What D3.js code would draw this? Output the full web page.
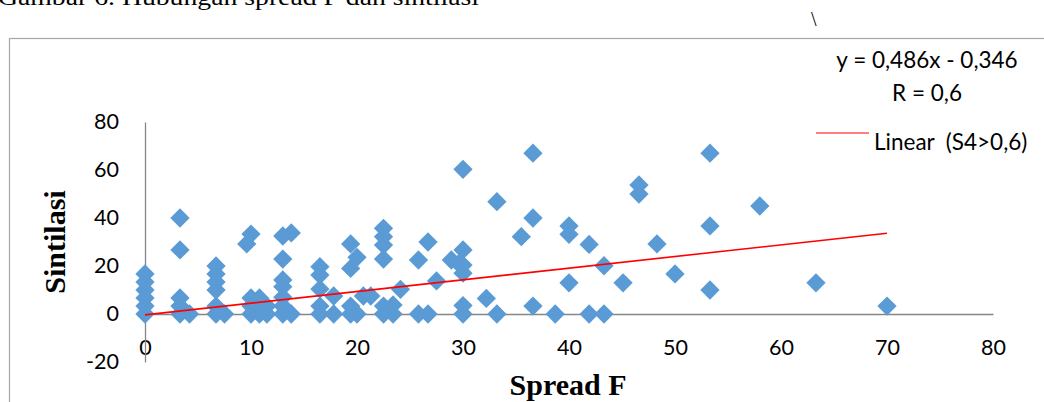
<!DOCTYPE html>
<html>
<head>
<meta charset="utf-8">
<script src="https://cdn.jsdelivr.net/npm/d3@7"></script>
<style>
  body { margin: 0; background: #fff; }
  svg { display: block; }
</style>
</head>
<body>
<div id="chart"></div>
<script>
// spread F (x) vs sintilasi (y)
const spreadF = [
  0, 0, 0, 0, 0, 0,
  3.3, 3.3, 3.3, 3.3, 3.3, 4.2,
  6.7, 6.7, 6.7, 6.7, 6.7, 6.7, 7.5,
  10, 10, 10, 9.6, 10, 10.8, 10.8, 11.5, 11.5,
  13, 13, 13, 13, 13, 13, 13, 13.8, 13.8,
  16.5, 16.5, 16.5, 16.5, 16.5, 17.8, 17.8,
  19.4, 19.4, 19.4, 19.4, 20, 20, 20.6, 21.3,
  22.5, 22.5, 22.5, 22.5, 22.5, 22.5, 23.4, 23.4, 24.1,
  25.8, 25.8, 26.7, 26.7, 27.5, 28.9, 29.6,
  30, 30, 30, 30, 30, 30,
  32.2, 33.2, 33.2, 35.5, 36.6, 36.6, 36.6, 38.7,
  40, 40, 40, 41.9, 41.9, 43.3, 43.3, 45.1,
  46.6, 46.6, 48.3, 50, 53.3, 53.3, 53.3, 58, 63.3, 70
];
const sintilasi = [
  0, 3.3, 6.7, 10, 13.3, 16.7,
  0, 3.3, 6.7, 26.7, 40, 0,
  0, 3.3, 10, 13.3, 16.7, 20, 0,
  0, 3.3, 6.7, 29.2, 33.3, 0, 6.7, 0, 3.3,
  0, 3.3, 7, 11.4, 14.2, 22.9, 32.5, 0, 33.8,
  0, 3.3, 10.4, 16.2, 19.7, 0, 7.5,
  0, 3.3, 19, 29.2, 0, 23.6, 7.5, 7.5,
  0, 3.3, 22.9, 28.7, 32.2, 35.7, 0, 3.8, 10.3,
  0, 22.5, 0, 30, 13.8, 22.5, 21,
  0, 3.5, 17, 20.4, 26.7, 60.3,
  6.5, 0, 46.8, 32.2, 3.3, 40, 67, 0,
  13, 33.2, 36.7, 0, 29, 0, 20.1, 13,
  50, 53.75, 29.2, 16.7, 10, 36.7, 67, 45, 13, 3.3
];
const xTicks = [0, 10, 20, 30, 40, 50, 60, 70, 80];
const yTicks = [-20, 0, 20, 40, 60, 80];
const slope = 0.486, intercept = -0.346;
const eqLabel = "y = 0,486x - 0,346";
const rLabel = "R = 0,6";
const legendLabel = "Linear  (S4>0,6)";

const width = 1044, height = 402;
const x = d3.scaleLinear().domain([0, 80]).range([145, 993]);
const y = d3.scaleLinear().domain([-20, 80]).range([362, 122]);

const svg = d3.select("#chart").append("svg")
  .attr("width", width).attr("height", height);

// caption, cut at the top of the page like in the scan
svg.append("text")
  .attr("x", -2).attr("y", 5)
  .attr("font-family", "Liberation Serif")
  .attr("font-size", 24)
  .attr("textLength", 481).attr("lengthAdjust", "spacingAndGlyphs")
  .text("Gambar 6. Hubungan spread F dan sintilasi");
svg.append("text")
  .attr("x", 811).attr("y", 26)
  .attr("font-family", "Liberation Serif")
  .attr("font-size", 20)
  .text("\\");

// chart frame
svg.append("rect")
  .attr("x", 9.5).attr("y", 38.5)
  .attr("width", 1100).attr("height", 400)
  .attr("fill", "none").attr("stroke", "#a6a6a6").attr("stroke-width", 1.2);

const tickFont = g => g
  .call(g => g.selectAll("text")
    .attr("font-family", "Lato").attr("font-size", 21.5).attr("fill", "#000"))
  .call(g => g.select(".domain").attr("stroke", "#868686").attr("stroke-width", 1.3));

svg.append("g")
  .attr("transform", `translate(0,${y(0)})`)
  .call(d3.axisBottom(x).tickValues(xTicks).tickFormat(d => String(d))
    .tickSize(0).tickPadding(25.5).tickSizeOuter(0))
  .call(tickFont);

svg.append("g")
  .attr("transform", `translate(${x(0)},0)`)
  .call(d3.axisLeft(y).tickValues(yTicks).tickFormat(d => String(d))
    .tickSize(0).tickPadding(26).tickSizeOuter(0))
  .call(tickFont);

// axis titles
svg.append("text")
  .attr("transform", `translate(65,${242}) rotate(-90)`)
  .attr("text-anchor", "middle")
  .attr("font-family", "Liberation Serif").attr("font-weight", "bold")
  .attr("font-size", 30)
  .text("Sintilasi");
svg.append("text")
  .attr("x", 568).attr("y", 395)
  .attr("text-anchor", "middle")
  .attr("font-family", "Liberation Serif").attr("font-weight", "bold")
  .attr("font-size", 30)
  .text("Spread F");

// points
const diamond = d3.symbol(d3.symbolSquare, 186);
svg.append("g")
  .selectAll("path")
  .data(d3.range(spreadF.length))
  .join("path")
  .attr("d", diamond)
  .attr("transform", i => `translate(${x(spreadF[i])},${y(sintilasi[i])}) rotate(45)`)
  .attr("fill", "#5b9bd5");

// linear trend
const xMax = d3.max(spreadF);
svg.append("path")
  .datum([0, xMax])
  .attr("d", d3.line().x(d => x(d)).y(d => y(slope * d + intercept)))
  .attr("stroke", "#ff0000").attr("stroke-width", 1.6).attr("fill", "none");

// equation + legend
svg.append("text")
  .attr("x", 927).attr("y", 68).attr("text-anchor", "middle")
  .attr("font-family", "Lato").attr("font-size", 22.5)
  .text(eqLabel);
svg.append("text")
  .attr("x", 927).attr("y", 101).attr("text-anchor", "middle")
  .attr("font-family", "Lato").attr("font-size", 22.5)
  .text(rLabel);
svg.append("line")
  .attr("x1", 816).attr("x2", 869).attr("y1", 133).attr("y2", 133)
  .attr("stroke", "#ff0000").attr("stroke-width", 1.2);
svg.append("text")
  .attr("x", 874).attr("y", 150)
  .attr("font-family", "Lato").attr("font-size", 22.5)
  .style("white-space", "pre")
  .text(legendLabel);
</script>
</body>
</html>
